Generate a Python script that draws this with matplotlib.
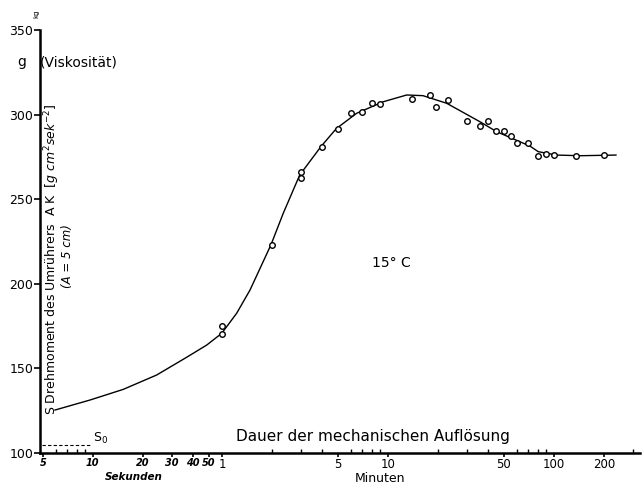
import matplotlib
matplotlib.use("Agg")
import matplotlib.pyplot as plt

# measured points: time in minutes, torque S
pts_min = [1, 1, 2, 3, 3, 4, 5, 6, 7, 8, 9, 14, 18, 19.5, 23, 30, 36, 40, 45,
           50, 55, 60, 70, 80, 90, 100, 135, 200]
pts_val = [175.2, 170.3, 223.1, 265.9, 262.5, 281, 291.7, 301.1, 301.5, 306.7,
           306.4, 309, 311.8, 304.7, 308.8, 296, 293.3, 296.2, 290.5, 290.3,
           287.4, 283.4, 283.2, 275.7, 276.5, 275.9, 275.5, 276.1]

# hand drawn fitted curve
curve_min = [0.0986, 0.160, 0.254, 0.404, 0.613, 0.809, 0.996, 1.226, 1.475,
             1.974, 2.34, 2.94, 3.94, 4.88, 6.48, 9.37, 12.97, 16.25, 22.58,
             35.8, 45.2, 71.7, 80.4, 103.8, 143.5, 236.4]
curve_val = [125.4, 131.3, 137.6, 146.1, 156.6, 163.8, 170.7, 182.6, 196.3,
             223.1, 241.7, 264.3, 281, 291.7, 300.8, 307.6, 311.6, 311.2, 306.7,
             295.8, 289.9, 281.4, 278.1, 276.1, 275.7, 276.1]

# S0 reference line
s0_min = [0.0822, 0.165]
s0_val = [104.7, 104.7]

sec_ticks = [5, 10, 20, 30, 40, 50]
min_ticks = [1, 5, 10, 50, 100, 200]
minor_min = [2, 3, 4, 6, 7, 8, 9, 20, 30, 40, 60, 70, 80, 90, 300]
y_ticks = [100, 150, 200, 250, 300, 350]


def main():
    f = plt.figure(figsize=(6.44, 4.84), dpi=100)
    ax = f.add_axes([0.0621, 0.064, 0.9317, 0.874])

    ax.plot(curve_min, curve_val, color='k', lw=1.0)
    ax.plot(pts_min, pts_val, 'o', mfc='white', mec='k', ms=4, mew=1.0)
    ax.plot(s0_min, s0_val, color='k', lw=0.8, ls=(0, (3, 2)))

    ax.set_xscale('log')
    ax.set_xlim(0.0801, 330)
    ax.set_ylim(100, 350)

    for s in ['top', 'right']:
        ax.spines[s].set_visible(False)
    for s in ['left', 'bottom']:
        ax.spines[s].set_linewidth(1.8)

    xt = [s / 60 for s in sec_ticks] + min_ticks
    xl = [str(s) for s in sec_ticks] + [str(m) for m in min_ticks]
    ax.set_xticks(xt)
    ax.set_xticklabels(xl)
    ax.set_xticks([m / 60 for m in [6, 7, 8, 9]] + minor_min, minor=True)
    ax.xaxis.set_minor_formatter(plt.NullFormatter())
    for i, lab in enumerate(ax.get_xticklabels()):
        if i < len(sec_ticks):
            lab.set_fontstyle('italic')
            lab.set_fontweight('bold')
            lab.set_fontsize(7)
        else:
            lab.set_fontsize(8.5)
    ax.tick_params(axis='x', which='major', direction='out', length=3,
                   width=1.2, pad=0.5)
    ax.tick_params(axis='x', which='minor', direction='in', length=3, width=1)

    ax.set_yticks(y_ticks)
    ax.tick_params(axis='y', direction='out', length=4, width=1.2, labelsize=9,
                   pad=1)

    # texts
    ax.text(0.166, 104.0, 'S$_0$', fontsize=9, va='bottom')
    ax.text(8.0, 212.5, '15° C', fontsize=10, va='center')
    f.text(236 / 644, 1 - 437 / 484, 'Dauer der mechanischen Auflösung',
           fontsize=11, va='center')
    f.text(355 / 644, 1 - 478 / 484, 'Minuten', fontsize=9, va='center')
    f.text(105 / 644, 1 - 477 / 484, 'Sekunden', fontsize=7.5, va='center',
           fontstyle='italic', fontweight='bold')
    f.text(22 / 644, 1 - 62 / 484, 'g', fontsize=10, va='center', ha='center')
    f.text(40 / 644, 1 - 62 / 484, '(Viskosität)', fontsize=10, va='center')
    f.text(36 / 644, 1 - 14 / 484, 'kg', fontsize=5, va='center',
           ha='center', rotation=90)
    f.text(52 / 644, 1 - 415 / 484,
           'S Drehmoment des Umrührers  A K  ' + r'$[g\ cm^2 sek^{-2}]$',
           fontsize=9, rotation=90, va='bottom', ha='center')
    f.text(67 / 644, 1 - 256 / 484, '(A = 5 cm)', fontsize=8.5, rotation=90,
           va='center', ha='center', fontstyle='italic')

    f.savefig("out.png", dpi=100)


if __name__ == "__main__": main()
